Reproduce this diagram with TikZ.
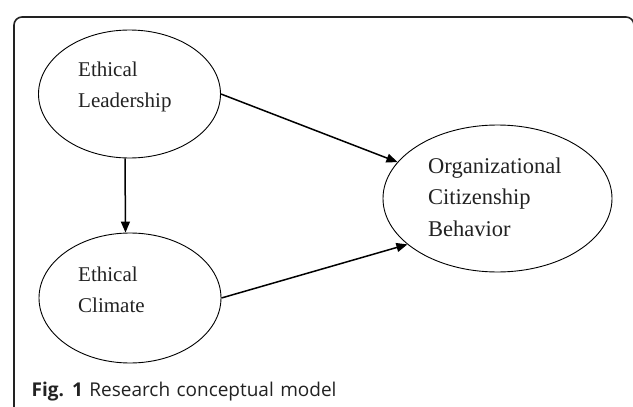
\documentclass[tikz,border=0pt]{standalone}
\usepackage{fontspec}
\setmainfont{Liberation Serif}
\newfontfamily\capfont[WordSpace=1.3]{Open Sans}
\usetikzlibrary{arrows.meta,shapes.geometric}
\definecolor{ink}{HTML}{222222}
\tikzset{
  frame/.style={draw=ink,line width=1.6pt,rounded corners=8pt},
  oval/.style={draw=black,line width=0.9pt,ellipse,inner sep=0pt},
  arr/.style={draw=black,line width=1.5pt,-{Triangle[length=11pt,width=9pt]}},
  lbl/.style={anchor=north west,inner sep=0pt,align=left,text=ink},
}
\begin{document}
\begin{tikzpicture}[x=1pt,y=-1pt]
\useasboundingbox (0,0) rectangle (633,407);
\draw[frame] (14,420) -- (14,17) -- (634,17) -- (634,80);
% ellipses
\node[oval,minimum width=182pt,minimum height=128pt] (L) at (129.5,94) {};
\node[oval,minimum width=182pt,minimum height=130pt] (C) at (130,298) {};
\node[oval,minimum width=229pt,minimum height=147pt] (O) at (497.5,198.5) {};
% texts
\node[lbl,font=\fontsize{21}{31}\selectfont] (Lt) at (78,61.8) {Ethical\\Leadership};
\node[lbl,font=\fontsize{21}{31}\selectfont] (Ct) at (78,266.4) {Ethical\\Climate};
\node[lbl,font=\fontsize{22.5}{31.5}\selectfont] (Ot) at (428,157.6) {Organizational\\Citizenship\\Behavior};
% connectors
\draw[arr] ([xshift=-4.5pt]L.south) -- ([xshift=-4.5pt]C.north);
\draw[arr] (L.east) -- (O.160);
\draw[arr] (C.east) -- (O.207);
% caption
\node[anchor=base west,inner sep=0pt,text=ink,font=\capfont\fontsize{19}{22}\selectfont] (cap) at (31.5,396.5) {\textbf{Fig. 1} Research conceptual model};
\end{tikzpicture}
\end{document}
